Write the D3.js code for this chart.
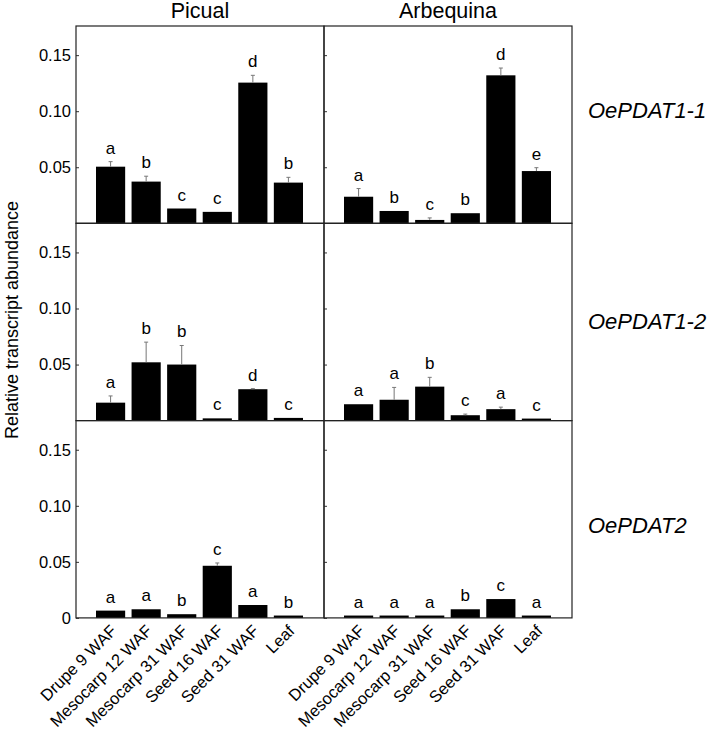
<!DOCTYPE html>
<html>
<head>
<meta charset="utf-8">
<script src="https://cdn.jsdelivr.net/npm/d3@7"></script>
<style>
    body { margin: 0; background: #fff; }
    text { font-family: "Liberation Sans", Arial, sans-serif; fill: #000; }
</style>
</head>
<body>
<div id="main"></div>
<script>
const samples = ["Drupe 9 WAF", "Mesocarp 12 WAF", "Mesocarp 31 WAF", "Seed 16 WAF", "Seed 31 WAF", "Leaf"];
const cultivars = ["Picual", "Arbequina"];
const genes = ["OePDAT1-1", "OePDAT1-2", "OePDAT2"];
const yTicks = [0, 0.05, 0.10, 0.15];

// values + error (top of whisker minus bar)
const picualPDAT11 = [0.0505, 0.0372, 0.0132, 0.0102, 0.1255, 0.0363];
const picualPDAT11Err = [0.0045, 0.0048, 0, 0, 0.0065, 0.0047];
const picualPDAT11Sig = ["a", "b", "c", "c", "d", "b"];
const arbequinaPDAT11 = [0.0237, 0.011, 0.003, 0.009, 0.132, 0.0466];
const arbequinaPDAT11Err = [0.0073, 0, 0.0018, 0, 0.0065, 0.003];
const arbequinaPDAT11Sig = ["a", "b", "c", "b", "d", "e"];

const picualPDAT12 = [0.016, 0.052, 0.050, 0.002, 0.028, 0.0024];
const picualPDAT12Err = [0.006, 0.018, 0.017, 0, 0.0005, 0];
const picualPDAT12Sig = ["a", "b", "b", "c", "d", "c"];
const arbequinaPDAT12 = [0.0146, 0.0186, 0.0303, 0.0048, 0.0102, 0.0018];
const arbequinaPDAT12Err = [0, 0.011, 0.0083, 0.001, 0.0018, 0];
const arbequinaPDAT12Sig = ["a", "a", "b", "c", "a", "c"];

const picualPDAT2 = [0.0065, 0.0077, 0.0033, 0.0465, 0.0115, 0.0021];
const picualPDAT2Err = [0, 0, 0, 0.0025, 0, 0];
const picualPDAT2Sig = ["a", "a", "b", "c", "a", "b"];
const arbequinaPDAT2 = [0.0021, 0.0021, 0.0021, 0.0077, 0.0168, 0.0021];
const arbequinaPDAT2Err = [0, 0, 0, 0, 0, 0];
const arbequinaPDAT2Sig = ["a", "a", "a", "b", "c", "a"];

const panels = [
    [[picualPDAT11, picualPDAT11Err, picualPDAT11Sig], [arbequinaPDAT11, arbequinaPDAT11Err, arbequinaPDAT11Sig]],
    [[picualPDAT12, picualPDAT12Err, picualPDAT12Sig], [arbequinaPDAT12, arbequinaPDAT12Err, arbequinaPDAT12Sig]],
    [[picualPDAT2, picualPDAT2Err, picualPDAT2Sig], [arbequinaPDAT2, arbequinaPDAT2Err, arbequinaPDAT2Sig]],
];

let svg = d3.select("#main").append("svg").attr("width", 708).attr("height", 732);

const left = 76, top0 = 26, pw = 248, ph = 197.3;
const geneDy = [92, 106, 112];

genes.forEach((gene, r) => {
    let py = top0 + r * ph;
    let yScale = d3.scaleLinear().domain([0, 0.176]).range([py + ph, py]);

    cultivars.forEach((cv, c) => {
        let px = left + c * pw;
        let [vals, errs, sig] = panels[r][c];
        let data = samples.map((s, i) => ({ name: s, value: vals[i], err: errs[i], sig: sig[i] }));

        let xScale = d3.scaleBand()
            .domain(samples)
            .range([px + 20, px + pw - 21])
            .paddingInner(0.18)
            .paddingOuter(0);

        let g = svg.append("g");

        let ticks = r === 2 ? yTicks : yTicks.slice(1);
        let axis = d3.axisLeft(yScale)
            .tickValues(ticks)
            .tickSizeInner(-3)
            .tickSizeOuter(0)
            .tickPadding(5)
            .tickFormat(d => c === 0 ? (d === 0 ? "0" : d3.format(".2f")(d)) : "");
        let ag = g.append("g")
            .attr("transform", `translate(${px}, 0)`)
            .call(axis);
        ag.select(".domain").remove();
        ag.selectAll("line").attr("stroke", "#333");
        ag.selectAll("text")
            .style("font-size", "16.5px")
            .style("font-family", "'Liberation Sans', Arial, sans-serif");

        g.selectAll(".bar")
            .data(data)
            .enter()
            .append("rect")
            .attr("x", d => xScale(d.name))
            .attr("y", d => yScale(d.value))
            .attr("width", xScale.bandwidth())
            .attr("height", d => yScale(0) - yScale(d.value))
            .attr("fill", "#000");

        let eb = g.selectAll(".err")
            .data(data.filter(d => d.err > 0))
            .enter()
            .append("g")
            .attr("stroke", "#777")
            .attr("stroke-width", 1);
        eb.append("line")
            .attr("x1", d => xScale(d.name) + xScale.bandwidth() / 2)
            .attr("x2", d => xScale(d.name) + xScale.bandwidth() / 2)
            .attr("y1", d => yScale(d.value))
            .attr("y2", d => yScale(d.value + d.err));
        eb.append("line")
            .attr("x1", d => xScale(d.name) + xScale.bandwidth() / 2 - 2)
            .attr("x2", d => xScale(d.name) + xScale.bandwidth() / 2 + 2)
            .attr("y1", d => yScale(d.value + d.err))
            .attr("y2", d => yScale(d.value + d.err));

        g.selectAll(".sig")
            .data(data)
            .enter()
            .append("text")
            .attr("x", d => xScale(d.name) + xScale.bandwidth() / 2)
            .attr("y", d => yScale(d.value + d.err) - 8)
            .attr("text-anchor", "middle")
            .style("font-size", "17px")
            .text(d => d.sig);

        g.append("rect")
            .attr("x", px)
            .attr("y", py)
            .attr("width", pw)
            .attr("height", ph)
            .attr("fill", "none")
            .attr("stroke", "#222")
            .attr("stroke-width", 1.2);

        if (r === 0) {
            svg.append("text")
                .attr("x", px + pw / 2)
                .attr("y", 17.5)
                .attr("text-anchor", "middle")
                .style("font-size", "21.5px")
                .text(cv);
        }

        if (r === 2) {
            g.selectAll(".xlab")
                .data(samples)
                .enter()
                .append("text")
                .attr("text-anchor", "end")
                .attr("transform", d => `translate(${xScale(d) + xScale.bandwidth() / 2 + 7}, ${py + ph + 14}) rotate(-45)`)
                .style("font-size", "16.5px")
                .text(d => d);
        }
    });

    svg.append("text")
        .attr("x", 588)
        .attr("y", py + geneDy[r])
        .style("font-size", "22px")
        .style("font-style", "italic")
        .text(gene);
});

svg.append("text")
    .attr("transform", "translate(18, 320) rotate(-90)")
    .attr("text-anchor", "middle")
    .style("font-size", "18px")
    .text("Relative transcript abundance");
</script>
</body>
</html>
